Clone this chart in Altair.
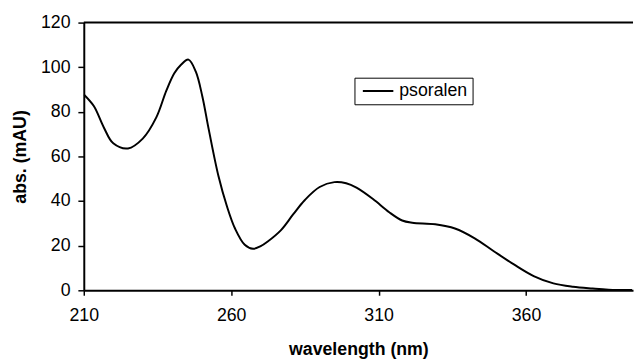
import altair as alt
import pandas as pd

# values
wavelength = [210, 213.4, 216.8, 220, 225, 230, 234.6, 238, 240.7, 242.9, 245.5, 248, 250.2,
              252.4, 255.7, 258.5, 261.3, 264.6, 267.4, 270, 272.4, 276.9, 281,
              285, 290, 295, 299, 302.5, 308.1, 313.6, 318, 321.4, 329.2, 335.9, 342.6,
              349.2, 355.9, 362.6, 369.3, 375.9, 382.6, 388, 396]
absorbance = [87.8, 82.6, 73, 65.9, 63.6, 68, 77.5, 89.5, 97.3, 101, 103.4, 98, 87,
              72, 51.1, 37.9, 27.7, 20.4, 18.6, 19.8, 21.9, 27, 34,
              40.5, 46.3, 48.5, 48, 46, 40.9, 35, 31.3, 30.3, 29.6, 27.7, 23.3,
              17.4, 11.6, 6.4, 3.1, 1.6, 0.8, 0.3, 0.1]
series_name = "psoralen"
x_ticks = [210, 260, 310, 360]
y_ticks = [0, 20, 40, 60, 80, 100, 120]

df = pd.DataFrame({
    "wavelength": wavelength,
    "abs": absorbance,
    "series": [series_name] * len(wavelength),
})

FONT = "Liberation Sans"

line = alt.Chart(df).mark_line(
    color="black", strokeWidth=2, interpolate="catmull-rom", clip=True
).encode(
    x=alt.X("wavelength:Q",
            scale=alt.Scale(domain=[210, 396.3], nice=False, zero=False),
            axis=alt.Axis(values=x_ticks, title="wavelength (nm)", grid=False,
                          tickSize=5, labelPadding=12, titlePadding=16,
                          labelFlush=False)),
    y=alt.Y("abs:Q",
            scale=alt.Scale(domain=[0, 120], nice=False),
            axis=alt.Axis(values=y_ticks, title="abs. (mAU)", grid=False,
                          tickSize=6, labelPadding=8, titlePadding=11,
                          labelFlush=False)),
    color=alt.Color("series:N", scale=alt.Scale(range=["black"]),
                    legend=alt.Legend(title=None, orient="none", legendX=275, legendY=56,
                                      symbolType="M-3.1,0H3.1", symbolStrokeWidth=2,
                                      symbolSize=100, symbolOffset=10.5,
                                      strokeColor="black",
                                      fillColor="white", padding=4.5,
                                      labelFont=FONT, labelFontSize=18,
                                      labelColor="black", labelOffset=12.5)),
)

top = alt.Chart(pd.DataFrame({"v": [120]})).mark_rule(color="black", strokeWidth=2).encode(
    y=alt.datum(120)
)

chart = alt.layer(line, top).properties(
    width=558, height=272,
    padding={"left": 3, "top": 3, "right": 0, "bottom": 0},
).configure_view(stroke=None).configure_axis(
    labelFont=FONT, labelFontSize=18, labelColor="black",
    titleFont=FONT, titleFontSize=18, titleFontWeight="bold", titleColor="black",
    domainColor="black", domainWidth=2, tickColor="black", tickWidth=1.5,
)

chart.save("out.html", embed_options={"renderer": "svg", "actions": False})
